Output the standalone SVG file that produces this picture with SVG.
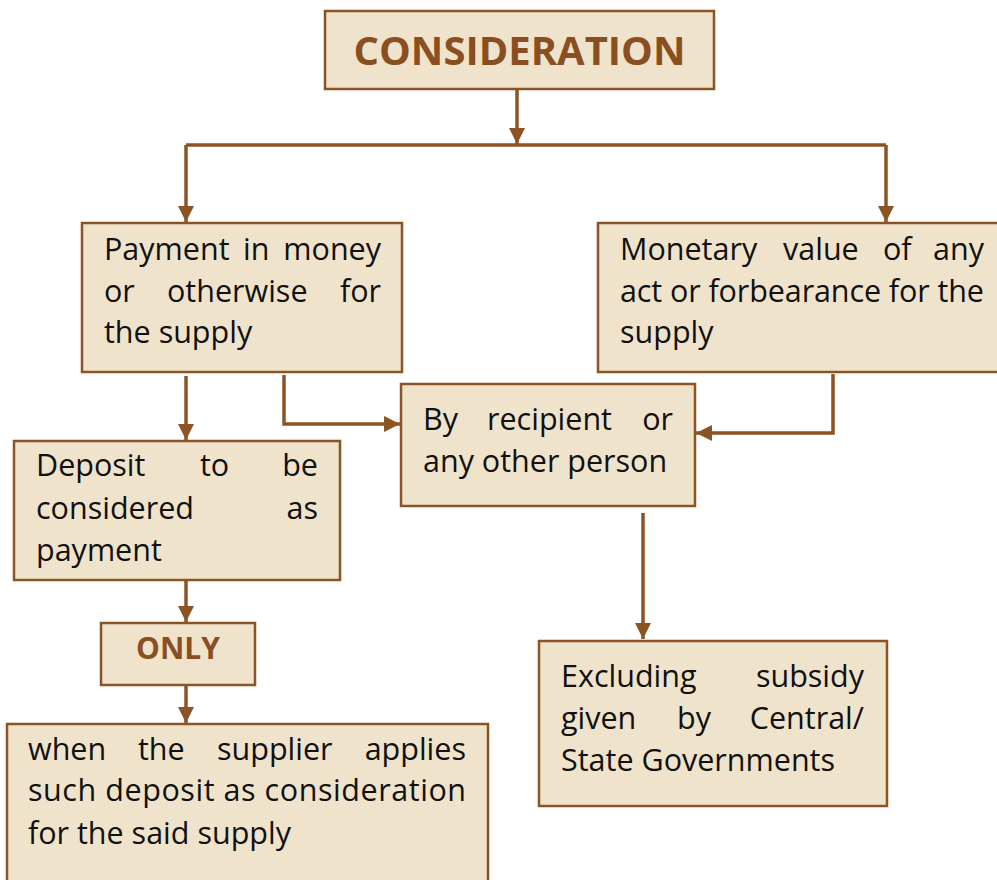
<svg xmlns="http://www.w3.org/2000/svg" width="997" height="880" viewBox="0 0 997 880">
  <style>
    .box { fill: #F0E3CC; stroke: #8A5424; stroke-width: 2.5; }
    .txt { font-family: "Open Sans", "Liberation Sans", sans-serif; font-size: 30.5px; fill: #111111; }
    .end { text-anchor: end; }
    .head { font-family: "Open Sans", "Liberation Sans", sans-serif; font-weight: bold; fill: #8A4F20; text-anchor: middle; }
    .link { fill: none; stroke: #8A5424; stroke-width: 3.5; marker-end: url(#arrow); }
  </style>
  <defs>
    <marker id="arrow" markerUnits="userSpaceOnUse" markerWidth="18" markerHeight="18" viewBox="0 0 18 18" refX="16" refY="9" orient="auto">
      <path d="M0,1 L16,9 L0,17 Z" fill="#8A5424"/>
    </marker>
  </defs>
  <rect width="997" height="880" fill="#FFFFFF"/>

  <!-- connectors -->
  <g id="connectors">
    <path class="link" d="M517,89 V144"/>
    <path d="M186,145 H886" fill="none" stroke="#8A5424" stroke-width="3.5"/>
    <path class="link" d="M186,145 V222"/>
    <path class="link" d="M886,145 V222"/>
    <path class="link" d="M186,376 V440"/>
    <path class="link" d="M284,375 V424 H400"/>
    <path class="link" d="M833,374 V433 H696"/>
    <path class="link" d="M643,513 V639"/>
    <path class="link" d="M186,581 V622"/>
    <path class="link" d="M186,685 V723"/>
  </g>

  <!-- title -->
  <g id="node-consideration">
    <rect class="box" x="325" y="11" width="389" height="78"/>
    <text class="head" x="519.5" y="65" font-size="40">CONSIDERATION</text>
  </g>

  <!-- payment in money -->
  <g id="node-payment">
    <rect class="box" x="82" y="223" width="320" height="149"/>
    <text class="txt" x="104" y="260">Payment</text>
    <text class="txt" x="243" y="260">in</text>
    <text class="txt end" x="381" y="260">money</text>
    <text class="txt" x="104" y="302">or</text>
    <text class="txt" x="167" y="302">otherwise</text>
    <text class="txt end" x="381" y="302">for</text>
    <text class="txt" x="104" y="343">the supply</text>
  </g>

  <!-- monetary value -->
  <g id="node-monetary">
    <rect class="box" x="598" y="223" width="404" height="149"/>
    <text class="txt" x="620" y="260">Monetary</text>
    <text class="txt" x="783" y="260">value</text>
    <text class="txt" x="883" y="260">of</text>
    <text class="txt end" x="984" y="260">any</text>
    <text class="txt" x="620" y="302" textLength="364">act or forbearance for the</text>
    <text class="txt" x="620" y="343">supply</text>
  </g>

  <!-- by recipient -->
  <g id="node-recipient">
    <rect class="box" x="401" y="384" width="294" height="122"/>
    <text class="txt" x="423" y="430">By</text>
    <text class="txt" x="487" y="430">recipient</text>
    <text class="txt end" x="673" y="430">or</text>
    <text class="txt" x="423" y="472">any other person</text>
  </g>

  <!-- deposit -->
  <g id="node-deposit">
    <rect class="box" x="14" y="441" width="326" height="139"/>
    <text class="txt" x="36" y="476">Deposit</text>
    <text class="txt" x="200" y="476">to</text>
    <text class="txt end" x="318" y="476">be</text>
    <text class="txt" x="36" y="519">considered</text>
    <text class="txt end" x="318" y="519">as</text>
    <text class="txt" x="36" y="561">payment</text>
  </g>

  <!-- only -->
  <g id="node-only">
    <rect class="box" x="101" y="623" width="154" height="62"/>
    <text class="head" x="178" y="659" font-size="30">ONLY</text>
  </g>

  <!-- deposit applied -->
  <g id="node-applies">
    <rect class="box" x="7" y="724" width="481" height="170"/>
    <text class="txt" x="28" y="760">when</text>
    <text class="txt" x="138" y="760">the</text>
    <text class="txt" x="217" y="760">supplier</text>
    <text class="txt end" x="466" y="760">applies</text>
    <text class="txt" x="28" y="801" textLength="438">such deposit as consideration</text>
    <text class="txt" x="28" y="844">for the said supply</text>
  </g>

  <!-- excluding subsidy -->
  <g id="node-excluding">
    <rect class="box" x="539" y="641" width="348" height="165"/>
    <text class="txt" x="561" y="687">Excluding</text>
    <text class="txt end" x="864" y="687">subsidy</text>
    <text class="txt" x="561" y="729">given</text>
    <text class="txt" x="677" y="729">by</text>
    <text class="txt end" x="864" y="729">Central/</text>
    <text class="txt" x="561" y="771">State Governments</text>
  </g>
</svg>
